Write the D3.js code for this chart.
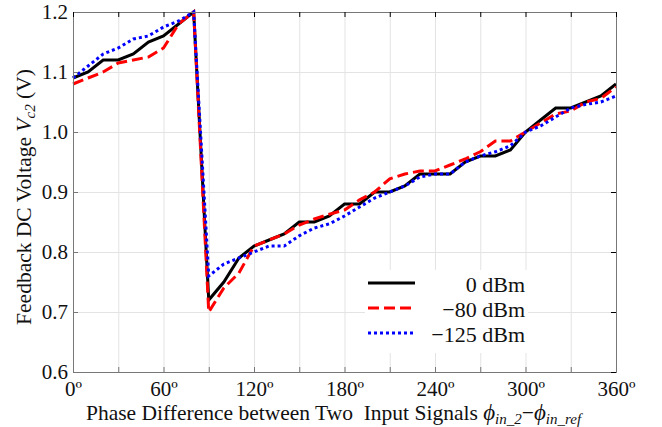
<!DOCTYPE html>
<html>
<head>
<meta charset="utf-8">
<script src="https://cdn.jsdelivr.net/npm/d3@7"></script>
<style>
  body { margin: 0; background: #fff; }
  text { font-family: "Liberation Serif", "Times New Roman", serif; }
</style>
</head>
<body>
<script>
// phase difference (deg) and feedback voltage Vc2 (V) per input power
const phase = [0, 10, 20, 30, 40, 50, 60, 70, 80, 90, 100, 110, 120, 130, 140, 150, 160, 170, 180,
    190, 200, 210, 220, 230, 240, 250, 260, 270, 280, 290, 300, 310, 320, 330, 340, 350, 360];
const v0dBm = [1.09, 1.10, 1.12, 1.12, 1.13, 1.15, 1.16, 1.18, 1.20, 0.72, 0.75, 0.79, 0.81, 0.82, 0.83,
    0.85, 0.85, 0.86, 0.88, 0.88, 0.90, 0.90, 0.91, 0.93, 0.93, 0.93, 0.95, 0.96, 0.96, 0.97,
    1.00, 1.02, 1.04, 1.04, 1.05, 1.06, 1.08];
const v80dBm = [1.08, 1.09, 1.10, 1.115, 1.12, 1.125, 1.14, 1.18, 1.20, 0.70, 0.74, 0.765, 0.81, 0.82, 0.83,
    0.845, 0.855, 0.863, 0.87, 0.887, 0.90, 0.922, 0.93, 0.935, 0.935, 0.945, 0.955, 0.967, 0.985, 0.985,
    1.00, 1.015, 1.03, 1.035, 1.05, 1.056, 1.075];
const v125dBm = [1.09, 1.11, 1.13, 1.14, 1.155, 1.16, 1.175, 1.185, 1.20, 0.76, 0.78, 0.79, 0.80, 0.81, 0.81,
    0.827, 0.84, 0.847, 0.86, 0.875, 0.89, 0.90, 0.91, 0.925, 0.93, 0.93, 0.95, 0.96, 0.967, 0.977,
    1.00, 1.01, 1.025, 1.04, 1.046, 1.05, 1.06];
const xTicks = [0, 60, 120, 180, 240, 300, 360];
const yTicks = [0.6, 0.7, 0.8, 0.9, 1.0, 1.1, 1.2];
const legendNames = ["0 dBm", "\u221280 dBm", "\u2212125 dBm"];

const W = 662, H = 427;
const margin = { top: 12, right: 46, bottom: 55, left: 73 };
const w = W - margin.left - margin.right;
const h = H - margin.top - margin.bottom;

const svg = d3.select('body')
    .append('svg')
    .attr('width', W)
    .attr('height', H);

const g = svg.append('g').attr('transform', `translate(${margin.left},${margin.top})`);

const x = d3.scaleLinear().domain([0, 360]).range([0, w]);
const y = d3.scaleLinear().domain([0.6, 1.2]).range([h, 0]);

// grid
g.append('g')
    .attr('transform', `translate(0,${h})`)
    .call(d3.axisBottom(x).tickValues(d3.range(0, 361, 30)).tickSize(-h).tickFormat(''))
    .call(a => a.select('.domain').remove())
    .call(a => a.selectAll('line').attr('stroke', '#e3e3e3'));
g.append('g')
    .call(d3.axisLeft(y).tickValues(yTicks).tickSize(-w).tickFormat(''))
    .call(a => a.select('.domain').remove())
    .call(a => a.selectAll('line').attr('stroke', '#e3e3e3'));

// legend background hides the grid
const legend = g.append('g').attr('transform', 'translate(292,258)');
legend.append('rect')
    .attr('width', 163).attr('height', 83)
    .attr('fill', '#fff');

const series = [
    { name: legendNames[0], values: v0dBm, color: '#000', dash: null },
    { name: legendNames[1], values: v80dBm, color: '#ff0000', dash: '11,5' },
    { name: legendNames[2], values: v125dBm, color: '#0000ff', dash: '3,3' }
];

const line = d3.line()
    .x((d, i) => x(phase[i]))
    .y(d => y(d));

g.selectAll('path.series')
    .data(series)
    .join('path')
    .attr('class', 'series')
    .attr('d', d => line(d.values))
    .attr('fill', 'none')
    .attr('stroke', d => d.color)
    .attr('stroke-width', 3)
    .attr('stroke-dasharray', d => d.dash);

// legend entries
const entry = legend.selectAll('g.entry')
    .data(series)
    .join('g')
    .attr('class', 'entry')
    .attr('transform', (d, i) => `translate(0,${13 + i * 25})`);
entry.append('line')
    .attr('x1', 3).attr('x2', 50)
    .attr('stroke', d => d.color)
    .attr('stroke-width', 3)
    .attr('stroke-dasharray', d => d.dash);
entry.append('text')
    .attr('x', 160).attr('y', 9)
    .attr('text-anchor', 'end')
    .attr('font-size', 22)
    .attr('fill', '#111')
    .text(d => d.name);

// frame + axes
const axisColor = '#777';
const xAxis = g.append('g')
    .attr('transform', `translate(0,${h})`)
    .call(d3.axisBottom(x).tickValues(d3.range(0, 361, 30)).tickSize(-5).tickPadding(9)
        .tickFormat(d => xTicks.includes(d) ? d + '\u00ba' : ''));
const yAxis = g.append('g')
    .call(d3.axisLeft(y).tickValues(yTicks).tickSize(-5).tickPadding(5).tickFormat(d3.format('.1f')));
g.append('g')
    .attr('transform', `translate(${w},0)`)
    .call(d3.axisRight(y).tickValues(yTicks).tickSize(-5).tickFormat(''));
g.append('g')
    .call(d3.axisTop(x).tickValues(d3.range(0, 361, 30)).tickSize(-5).tickFormat(''));
g.selectAll('.domain').attr('stroke', axisColor);
[xAxis, yAxis].forEach(a => a.selectAll('text')
    .attr('font-family', '"Liberation Serif", serif')
    .attr('font-size', 21)
    .attr('fill', '#111'));
xAxis.selectAll('.tick line').attr('stroke', axisColor);
yAxis.selectAll('.tick line').attr('stroke', axisColor);

// x label
const xl = svg.append('text')
    .attr('x', 86).attr('y', 420)
    .attr('font-size', 21.5)
    .attr('fill', '#111')
    .style('white-space', 'pre');
xl.append('tspan').text('Phase Difference between Two  Input Signals ');
xl.append('tspan').attr('font-style', 'italic').attr('font-size', 23).text('\u03d5');
xl.append('tspan').attr('font-style', 'italic').attr('font-size', 15).attr('dy', 4).text('in_2');
xl.append('tspan').attr('dy', -4).text('\u2212');
xl.append('tspan').attr('font-style', 'italic').attr('font-size', 23).text('\u03d5');
xl.append('tspan').attr('font-style', 'italic').attr('font-size', 15).attr('dy', 4).text('in_ref');

// y label
const yl = svg.append('text')
    .attr('transform', 'translate(31,197) rotate(-90)')
    .attr('text-anchor', 'middle')
    .attr('font-size', 21.5)
    .attr('fill', '#111')
    .style('white-space', 'pre');
yl.append('tspan').text('Feedback DC Voltage ');
yl.append('tspan').attr('font-style', 'italic').text('V');
yl.append('tspan').attr('font-style', 'italic').attr('font-size', 15).attr('dy', 4).text('c2');
yl.append('tspan').attr('dy', -4).text(' (V)');
</script>
</body>
</html>
